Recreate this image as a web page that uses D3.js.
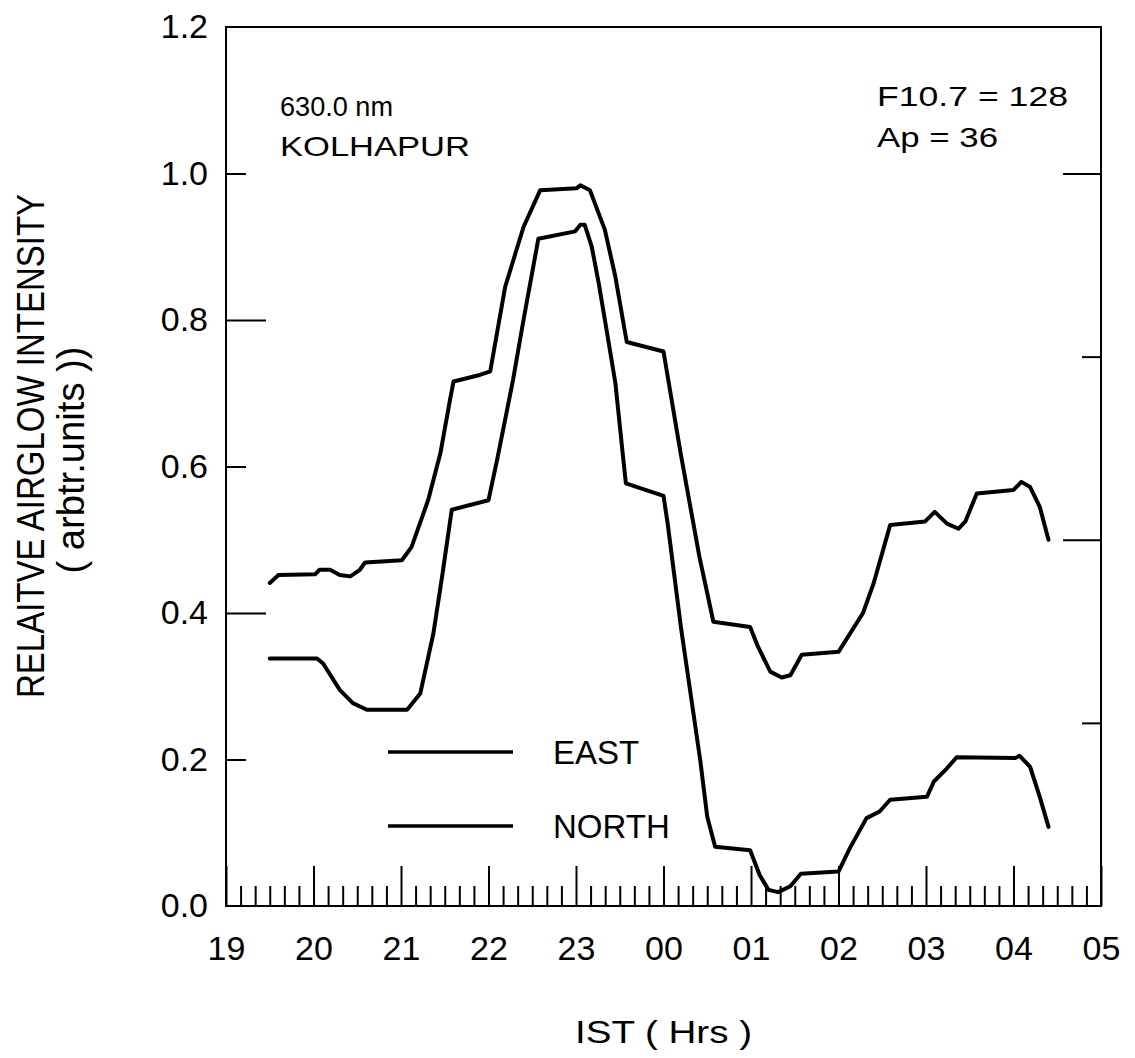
<!DOCTYPE html>
<html>
<head>
<meta charset="utf-8">
<script src="https://cdn.jsdelivr.net/npm/d3@7/dist/d3.min.js"></script>
<style>
  html, body { margin: 0; padding: 0; background: #fff; }
  svg { display: block; }
  text { font-family: "Liberation Sans", Arial, sans-serif; fill: #000; }
</style>
</head>
<body>
<svg id="chart" width="1135" height="1058"></svg>
<script>
// Time axis: decimal hours IST, continuing past midnight (24 = 00, 29 = 05)
const hourTicks = [19, 20, 21, 22, 23, 24, 25, 26, 27, 28, 29];
const hourLabels = ["19", "20", "21", "22", "23", "00", "01", "02", "03", "04", "05"];
const leftTicks = [0, 0.2, 0.4, 0.6, 0.8, 1.0, 1.2];
const leftTickLabels = ["0.0", "0.2", "0.4", "0.6", "0.8", "1.0", "1.2"];
const rightTicks = [0.25, 0.5, 0.75, 1.0];

// 630.0 nm relative airglow intensity, EAST viewing direction
const eastTime = [19.50, 19.60, 20.02, 20.07, 20.19, 20.30, 20.42, 20.53, 20.59, 21.01,
  21.12, 21.31, 21.45, 21.56, 21.60, 21.90, 22.02, 22.19, 22.40, 22.59,
  23.01, 23.05, 23.16, 23.33, 23.45, 23.58, 24.00, 24.19, 24.41, 24.57,
  24.99, 25.08, 25.22, 25.35, 25.45, 25.58, 26.00, 26.28, 26.40, 26.59,
  26.99, 27.10, 27.24, 27.37, 27.45, 27.58, 28.00, 28.09, 28.19, 28.30, 28.40];
const eastValue = [0.441, 0.452, 0.453, 0.459, 0.459, 0.452, 0.450, 0.459, 0.469, 0.472,
  0.490, 0.554, 0.618, 0.691, 0.716, 0.725, 0.730, 0.845, 0.927, 0.977,
  0.980, 0.984, 0.977, 0.923, 0.859, 0.770, 0.757, 0.622, 0.477, 0.388,
  0.381, 0.354, 0.320, 0.312, 0.315, 0.343, 0.347, 0.400, 0.440, 0.520,
  0.525, 0.538, 0.522, 0.515, 0.525, 0.563, 0.568, 0.579, 0.572, 0.545, 0.500];

// NORTH viewing direction
const northTime = [19.50, 20.04, 20.11, 20.30, 20.45, 20.61, 21.07, 21.22, 21.37, 21.47,
  21.58, 22.00, 22.10, 22.28, 22.40, 22.57, 22.99, 23.05, 23.10, 23.18,
  23.26, 23.35, 23.45, 23.53, 23.57, 24.00, 24.05, 24.20, 24.42, 24.50,
  24.59, 24.99, 25.10, 25.20, 25.31, 25.45, 25.57, 26.00, 26.13, 26.32,
  26.47, 26.59, 27.01, 27.09, 27.24, 27.35, 28.02, 28.07, 28.19, 28.30, 28.40];
const northValue = [0.338, 0.338, 0.331, 0.295, 0.277, 0.268, 0.268, 0.290, 0.372, 0.450,
  0.541, 0.554, 0.610, 0.718, 0.800, 0.911, 0.921, 0.930, 0.930, 0.900,
  0.850, 0.786, 0.714, 0.622, 0.577, 0.560, 0.520, 0.380, 0.199, 0.122,
  0.081, 0.076, 0.042, 0.022, 0.019, 0.027, 0.044, 0.047, 0.079, 0.120,
  0.129, 0.145, 0.149, 0.170, 0.188, 0.203, 0.202, 0.205, 0.190, 0.149, 0.108];

const seriesNames = ["EAST", "NORTH"];

const svg = d3.select("#chart");
const plot = { left: 226, right: 1101, top: 27, bottom: 906 };

const x = d3.scaleLinear().domain([19, 29]).range([plot.left, plot.right]);
const y = d3.scaleLinear().domain([0, 1.2]).range([plot.bottom, plot.top]);

// ten-minute minor ticks along the time axis
const minorTicks = d3.range(19 * 6, 29 * 6 + 1).map(d => d / 6)
  .filter(d => Math.abs(d - Math.round(d)) > 1e-6);

function styleAxis(g) {
  g.select(".domain").remove();
  g.selectAll(".tick line").attr("stroke", "#000").attr("stroke-width", 2);
}

// bottom axis: minor then major ticks with hour labels
svg.append("g")
  .attr("transform", `translate(0,${plot.bottom})`)
  .call(d3.axisBottom(x).tickValues(minorTicks).tickSize(-20).tickFormat(""))
  .call(styleAxis);

svg.append("g")
  .attr("transform", `translate(0,${plot.bottom})`)
  .call(d3.axisBottom(x).tickValues(hourTicks).tickSize(-40).tickPadding(30)
    .tickFormat((d, i) => hourLabels[i]))
  .call(styleAxis)
  .call(g => g.selectAll("text").attr("font-size", 34).attr("font-family", "Liberation Sans, Arial, sans-serif"));

// left axis: labels, then alternating short/long ticks
svg.append("g")
  .attr("transform", `translate(${plot.left},0)`)
  .call(d3.axisLeft(y).tickValues(leftTicks).tickSize(0).tickPadding(18)
    .tickFormat((d, i) => leftTickLabels[i]))
  .call(styleAxis)
  .call(g => g.selectAll("text").attr("font-size", 34).attr("font-family", "Liberation Sans, Arial, sans-serif"));

svg.append("g")
  .attr("transform", `translate(${plot.left},0)`)
  .call(d3.axisLeft(y).tickValues(leftTicks.filter((d, i) => i % 2 === 1 && i < 6)).tickSize(-20).tickFormat(""))
  .call(styleAxis);
svg.append("g")
  .attr("transform", `translate(${plot.left},0)`)
  .call(d3.axisLeft(y).tickValues(leftTicks.filter((d, i) => i % 2 === 0 && i > 0 && i < 6)).tickSize(-40).tickFormat(""))
  .call(styleAxis);

// right axis: quarter-unit ticks, no labels
svg.append("g")
  .attr("transform", `translate(${plot.right},0)`)
  .call(d3.axisRight(y).tickValues(rightTicks.filter((d, i) => i % 2 === 1)).tickSize(-38).tickFormat(""))
  .call(styleAxis);
svg.append("g")
  .attr("transform", `translate(${plot.right},0)`)
  .call(d3.axisRight(y).tickValues(rightTicks.filter((d, i) => i % 2 === 0)).tickSize(-19).tickFormat(""))
  .call(styleAxis);

// frame
svg.append("rect")
  .attr("x", plot.left).attr("y", plot.top)
  .attr("width", plot.right - plot.left).attr("height", plot.bottom - plot.top)
  .attr("fill", "none").attr("stroke", "#000").attr("stroke-width", 2);

// curves
const line = d3.line().x(d => x(d[0])).y(d => y(d[1])).curve(d3.curveLinear);
const eastPts = eastTime.map((t, i) => [t, eastValue[i]]);
const northPts = northTime.map((t, i) => [t, northValue[i]]);

[eastPts, northPts].forEach(pts => {
  svg.append("path").datum(pts)
    .attr("d", line)
    .attr("fill", "none").attr("stroke", "#000").attr("stroke-width", 4)
    .attr("stroke-linejoin", "round").attr("stroke-linecap", "round");
});

// legend
const legend = svg.append("g");
seriesNames.forEach((name, i) => {
  const ly = 752 + i * 74;
  legend.append("line")
    .attr("x1", 388).attr("x2", 513).attr("y1", ly).attr("y2", ly)
    .attr("stroke", "#000").attr("stroke-width", 3.5);
  legend.append("text")
    .attr("x", 553).attr("y", ly + 12)
    .attr("font-size", 33)
    .text(name);
});

// annotations
svg.append("text").attr("x", 280).attr("y", 116).attr("font-size", 28)
  .attr("textLength", 113).attr("lengthAdjust", "spacingAndGlyphs").text("630.0 nm");
svg.append("text").attr("x", 280).attr("y", 156).attr("font-size", 28)
  .attr("textLength", 190).attr("lengthAdjust", "spacingAndGlyphs").text("KOLHAPUR");
svg.append("text").attr("x", 877).attr("y", 106).attr("font-size", 28)
  .attr("textLength", 191).attr("lengthAdjust", "spacingAndGlyphs").text("F10.7 = 128");
svg.append("text").attr("x", 877).attr("y", 147).attr("font-size", 28)
  .attr("textLength", 121).attr("lengthAdjust", "spacingAndGlyphs").text("Ap = 36");

// axis titles
svg.append("text")
  .attr("transform", "translate(44,446) scale(1.2,1) rotate(-90)")
  .attr("text-anchor", "middle").attr("font-size", 33)
  .text("RELAITVE AIRGLOW INTENSITY");
svg.append("text")
  .attr("transform", "translate(84,460) scale(1.2,1) rotate(-90)")
  .attr("text-anchor", "middle").attr("font-size", 33)
  .attr("textLength", 227).attr("lengthAdjust", "spacingAndGlyphs")
  .text("( arbtr.units ))");

svg.append("text")
  .attr("x", 575).attr("y", 1043)
  .attr("font-family", "DejaVu Sans, Verdana, sans-serif")
  .attr("font-size", 31)
  .attr("textLength", 177).attr("lengthAdjust", "spacingAndGlyphs")
  .text("IST ( Hrs )");
</script>
</body>
</html>
